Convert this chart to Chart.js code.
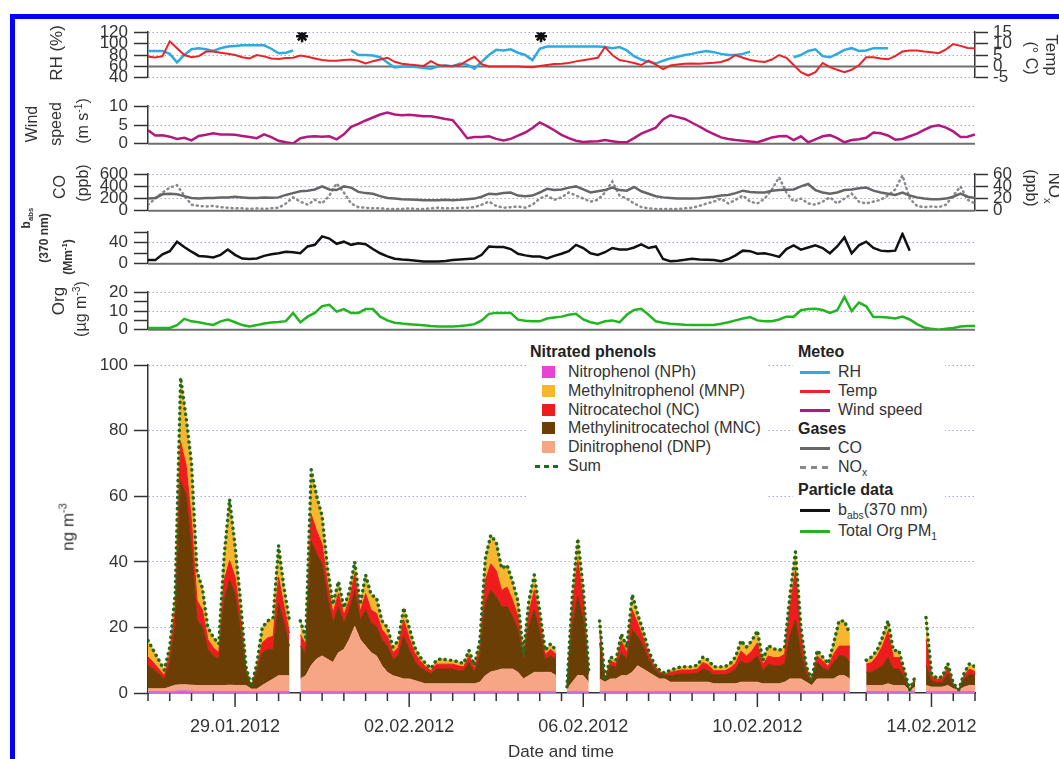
<!DOCTYPE html>
<html>
<head>
<meta charset="utf-8">
<script src="https://cdn.jsdelivr.net/npm/chart.js@4.4.0/dist/chart.umd.min.js"></script>
<style>
  body { margin: 0; background: #fff; }
  #page { position: relative; width: 1059px; height: 759px; overflow: hidden; background: #fff;
          font-family: "Liberation Sans", Arial, sans-serif; color: #333; }
  #frame { position: absolute; left: 10px; top: 14px; width: 1100px; height: 800px;
           border-left: 5px solid #0000ff; border-top: 5px solid #0000ff; }
  canvas { position: absolute; left: 0; }
  .t { position: absolute; white-space: nowrap; line-height: 1; }
  .vl { transform: translate(-50%, -50%) rotate(-90deg); }
  .vr { transform: translate(-50%, -50%) rotate(90deg); }
  .ab { font-size: 12px; font-weight: bold; }
  sup, sub { font-size: 65%; line-height: 0; }
  .box { position: absolute; background: #fff; }
  .hd { position: absolute; font-size: 16px; font-weight: bold; color: #222; line-height: 18px; }
  .it { position: absolute; font-size: 16px; color: #333; line-height: 18px; }
  .sw { position: absolute; width: 13px; height: 12px; }
  .ln { position: absolute; width: 30px; height: 3px; }
</style>
</head>
<body>
<div id="page">
  <div id="frame"></div>

  <canvas id="p1" width="1059" height="78" style="top:16px"></canvas>
  <canvas id="p2" width="1059" height="70" style="top:90px"></canvas>
  <canvas id="p3" width="1059" height="69" style="top:158px"></canvas>
  <canvas id="p4" width="1059" height="64" style="top:216px"></canvas>
  <canvas id="p5" width="1059" height="70" style="top:276px"></canvas>
  <canvas id="p6" width="1059" height="394" style="top:349px"></canvas>

  <!-- left axis titles -->
  <div class="t vl" style="left:56px;top:53px;font-size:17px">RH (%)</div>
  <div class="t vl" style="left:32px;top:124px;font-size:16px">Wind</div>
  <div class="t vl" style="left:56px;top:124px;font-size:16px">speed</div>
  <div class="t vl" style="left:83px;top:121px;font-size:16px">(m s<sup>-1</sup>)</div>
  <div class="t vl" style="left:60px;top:187px;font-size:16px">CO</div>
  <div class="t vl" style="left:83px;top:183px;font-size:16px">(ppb)</div>
  <div class="t vl ab" style="left:26px;top:218px">b<sub>abs</sub></div>
  <div class="t vl ab" style="left:44px;top:238px">(370 nm)</div>
  <div class="t vl ab" style="left:68px;top:257px">(Mm<sup>-1</sup>)</div>
  <div class="t vl" style="left:58px;top:301px;font-size:17px">Org</div>
  <div class="t vl" style="left:81px;top:309px;font-size:16px">(µg m<sup>-3</sup>)</div>
  <div class="t vl" style="left:68px;top:527px;font-size:17px">ng m<sup>-3</sup></div>

  <!-- right axis titles -->
  <div class="t vr" style="left:1031px;top:58px;font-size:16px">(° C)</div>
  <div class="t vr" style="left:1051px;top:55px;font-size:17px">Temp</div>
  <div class="t vr" style="left:1031px;top:188px;font-size:16px">(ppb)</div>
  <div class="t vr" style="left:1054px;top:188px;font-size:17px">NO<sub>x</sub></div>

  <div class="t" style="left:561px;top:751px;font-size:17px;transform:translate(-50%,-50%)">Date and time</div>

  <!-- legend -->
  <div class="box" style="left:527px;top:343px;width:240px;height:162px"></div>
  <div class="box" style="left:793px;top:343px;width:152px;height:200px"></div>

  <div class="hd" style="left:530px;top:343px">Nitrated phenols</div>
  <div class="sw" style="left:542px;top:366px;background:#e844d4"></div>
  <div class="it" style="left:568px;top:363px">Nitrophenol (NPh)</div>
  <div class="sw" style="left:542px;top:385px;background:#f8b62e"></div>
  <div class="it" style="left:568px;top:382px">Methylnitrophenol (MNP)</div>
  <div class="sw" style="left:542px;top:404px;background:#ee1c1c"></div>
  <div class="it" style="left:568px;top:401px">Nitrocatechol (NC)</div>
  <div class="sw" style="left:542px;top:422px;background:#6b3e05"></div>
  <div class="it" style="left:568px;top:419px">Methylinitrocatechol (MNC)</div>
  <div class="sw" style="left:542px;top:441px;background:#f7a685"></div>
  <div class="it" style="left:568px;top:438px">Dinitrophenol (DNP)</div>
  <div class="ln" style="left:535px;top:465px;width:23px;background:repeating-linear-gradient(90deg,#1e6b1e 0 5px,transparent 5px 9px)"></div>
  <div class="it" style="left:568px;top:457px">Sum</div>

  <div class="hd" style="left:798px;top:343px">Meteo</div>
  <div class="ln" style="left:800px;top:371px;background:#2ea9e1"></div>
  <div class="it" style="left:838px;top:363px">RH</div>
  <div class="ln" style="left:800px;top:390px;background:#ec2228"></div>
  <div class="it" style="left:838px;top:382px">Temp</div>
  <div class="ln" style="left:800px;top:409px;background:#b4187e"></div>
  <div class="it" style="left:838px;top:401px">Wind speed</div>
  <div class="hd" style="left:798px;top:420px">Gases</div>
  <div class="ln" style="left:800px;top:447px;background:#666"></div>
  <div class="it" style="left:838px;top:439px">CO</div>
  <div class="ln" style="left:800px;top:466px;background:repeating-linear-gradient(90deg,#888 0 6px,transparent 6px 11px)"></div>
  <div class="it" style="left:838px;top:458px">NO<sub>x</sub></div>
  <div class="hd" style="left:798px;top:481px">Particle data</div>
  <div class="ln" style="left:800px;top:509px;background:#111"></div>
  <div class="it" style="left:838px;top:501px">b<sub>abs</sub>(370 nm)</div>
  <div class="ln" style="left:800px;top:530px;background:#22b522"></div>
  <div class="it" style="left:838px;top:522px">Total Org PM<sub>1</sub></div>
</div>

<script>
// x axis: days since 27.01.2012 00:00
const xTickDays = [2, 6, 10, 14, 18];
const xTickLabels = ["29.01.2012", "02.02.2012", "06.02.2012", "10.02.2012", "14.02.2012"];
const starDays = [3.54, 9.03];
const starRH = [113, 113];

// meteo / gases / particles, 4-hourly
const rh = [87,87,87,82,67,80,90,92,90,87,92,95,96,97,97,97,97,91,83,84,88,
  null,null,null,null,null,null,null,
  88,80,80,79,76,67,58,60,60,59,57,56,60,62,60,65,63,56,68,80,89,88,90,84,80,71,
  91,95,95,95,95,95,95,95,95,94,92,94,88,78,72,68,65,70,74,77,80,82,85,87,85,82,80,80,82,86,
  null,null,null,null,null,
  76,80,87,90,78,76,82,89,92,87,88,92,92,92,
  null,null,null,null,null,null,null,null,null,null,null,null];
const temp = [4.4,3.9,4.5,11,8,5,4,4.5,6.5,6.5,6,5.5,5,4,3.5,5,4.4,3.5,3.3,3.7,
  3.8,4.8,4.2,3.5,2.8,2.5,2.5,2.8,3,2.5,1.3,2.3,3,3.8,2,1.2,0.8,0.5,0.2,2.3,
  0.6,0.2,0.3,0.6,2.5,4.2,1,0,0,0,0,0,-0.3,-0.4,0.2,0.6,1,1.2,1.5,2.2,
  2.7,3.2,3.8,8.5,5,2.8,2.2,1.5,0.6,2.5,0.8,-1.2,0.4,0.8,1.2,1.3,1.2,1.4,1.6,1.9,
  3,5,3.8,2.8,2.3,1.9,3,5,3.8,0.6,-2.5,-4,-2.5,1.5,-0.3,-1.5,-2.5,-1.5,0.5,4,
  4,3.5,3.1,4.5,6.5,7,7,6.5,6.2,5.8,7.5,9.8,9,8.1,8];
const wind = [3.6,2.2,2.3,1.9,1.3,1.6,0.9,2.1,2.4,2.8,2.5,2.5,2.4,2.1,1.8,1.5,2.5,1.8,0.8,0.4,
  0.1,1.5,1.9,2,1.9,2,1.2,2.5,4.5,5.3,6.2,7,7.8,8.3,7.8,7.6,7.7,7.5,7.3,7.3,
  7,6.6,6.3,4,1.5,1.8,1.8,2,1.3,0.9,1.3,2.2,3,4.2,5.7,4.7,3.6,2.4,1.5,0.8,
  0.5,0.6,0.7,1,0.7,0.4,0.4,1.5,2.7,3.5,4.3,6.5,7.6,7.1,6.6,5.6,4.6,3.5,2.6,1.7,
  1.3,1,0.8,0.6,0.4,1,1.7,2,2.1,1,2,0.4,1.2,2,2.3,1.5,0.4,1,1.2,1.6,
  3,2.8,2.2,1.1,1.3,2,2.7,3.7,4.6,4.9,4.3,3.3,1.8,1.9,2.5];
const co = [200,210,270,280,270,240,210,200,210,210,220,220,230,220,210,210,220,215,220,260,
  290,320,330,350,400,350,340,400,380,310,290,280,240,210,200,190,185,180,175,175,
  175,180,175,180,190,200,230,280,270,290,300,250,240,250,300,360,340,350,380,400,
  350,300,320,340,380,340,330,390,320,280,240,220,210,200,200,200,205,220,230,250,
  260,290,330,310,300,300,330,340,345,350,400,440,340,300,280,300,340,350,370,380,
  330,300,280,260,300,250,220,200,190,190,200,230,280,230,210];
const nox = [10,20,30,38,42,25,10,8,7,8,6,5,4,4,3,4,3,4,5,12,
  22,15,10,18,12,25,45,30,12,6,5,4,4,3,3,3,4,3,3,4,
  5,4,4,5,5,6,10,15,8,5,6,7,5,10,20,25,18,22,30,25,
  20,15,18,30,48,25,20,12,6,4,3,3,3,3,4,5,8,12,15,20,
  12,18,25,15,12,20,35,55,30,15,20,12,10,15,22,12,20,28,15,12,
  15,18,25,35,58,20,8,6,7,6,10,25,40,18,12];
const babs = [7,7,18,24,42,32,23,15,14,12,17,27,17,10,9,10,15,18,20,23,
  22,20,33,36,52,48,38,42,36,39,37,28,20,14,9.5,8,7,6,4.5,4.5,
  4.5,5.5,7,8,9,10,17,33,32,32,28,19,16,14,14,10,15,19,24,36,
  30,20,17,22,30,27,27,31,37,30,33,9,5,6,7.5,9.5,8,7.5,7,5,
  9,16,25,24,19,20,17,13,28,35,27,31,35,30,20,33,50,20,35,42,
  30,25,24,25,57,25,null,null,null,null,null,null,null,null,null];
const org = [1,1,1,1,2.5,5.8,4.5,4,3.2,2.6,4.5,5.5,4,2.5,1.8,2.5,3.3,3.9,4.2,4.6,
  9,4,7,9,12.6,13.3,9.7,11,9,9,11,11,7,5,3.8,3.3,3,2.7,2.4,2,
  1.7,1.7,1.7,2,2.4,3,5,8.5,9,9,9,5.4,4.8,4.5,4.5,6,6.5,7,8,8.5,
  5.5,4,3.2,4.5,5,4,8,10.5,11.2,8,4.5,3.7,3.2,3,2.7,2.5,2.5,2.5,2.6,3.2,
  4,5,6,6.8,5,4.6,4.6,5.5,7,7,10.4,11,11.2,10.5,9,10.4,17.5,10,14.5,12.5,
  6.8,6.8,6.5,6,7,5.5,3,1.2,0.5,0,0.5,1,1.8,2,2];

// nitrated phenols (ng m-3), 3-hourly
const nph = [0.3,0.3,0.3,0.3,0.3,0.4,0.5,0.5,0.4,0.3,0.3,0.3,0.3,0.3,
  0.3,0.4,0.3,0.3,0.3,0.2,0.2,0.3,0.3,0.3,0.3,0.3,0.3,
  null,
  0.3,0.3,0.4,0.4,0.3,0.3,0.3,0.3,0.3,0.3,0.3,0.3,0.3,0.3,0.3,0.3,0.3,0.3,0.3,0.3,0.3,0.3,0.3,
  0.3,0.3,0.3,0.3,0.3,0.3,0.3,0.3,0.3,0.3,0.3,0.3,0.4,0.3,
  0.3,0.3,0.3,0.3,0.3,0.3,0.3,0.3,0.3,0.3,0.3,
  null,
  0.2,0.3,0.4,0.3,0.2,
  null,
  0.3,0.3,0.3,0.3,0.3,0.3,0.3,0.3,0.3,0.3,0.3,0.3,0.3,0.3,0.3,0.3,0.3,0.3,0.3,
  0.3,0.3,0.3,0.3,0.3,0.3,0.3,0.3,0.3,0.3,0.3,0.3,0.3,0.3,0.3,0.3,
  0.3,0.3,0.3,0.3,0.3,0.3,0.3,0.3,0.3,0.3,0.3,0.3,
  null,null,
  0.3,0.3,0.3,0.3,0.3,0.3,0.3,0.3,0.2,0.3,
  null,
  0.3,0.3,0.3,0.3,0.3,0.3,0.3,0.3,0.3,0.3];
const dnp = [1,1,1,1,1.5,2,2,2,2,2,2,2,2,2,
  2,2,2,2,2,1,1,2,3,4,5,5,5,
  null,
  4,5,8,10,11,10,9,12,13,16,20,16,14,12,11,8,6,5,4.5,4,4,3.5,3,
  2.5,2.5,2.5,2.5,2.5,2.5,2.5,2.5,2.5,2.5,3,5,6,6.5,
  7,7,7,6,4,5,6,6,6,6,5,
  null,
  1,3,5,5,3,
  null,
  4,3,4,4,5,5,6,8,7,6,5,4,4,3,3,3,3,3,3,
  3,3,2.5,2.5,2.5,2.5,2.5,3,3,3,3,2.5,2.5,2.5,2.5,3,
  4,4,4,3,2,4,4,4,4,5,5,4,
  null,null,
  2,2,2,2,2.5,2,2,2,0.5,1.5,
  null,
  2,1.5,1.5,1.5,2,1,0.5,1.5,2,2];
const mnc = [7,6,4.5,3,7.5,18,62,58,42,20,18,11,9,8,
  26,32,28,17,4,0.5,5,10,10,9,22,16,9,
  null,
  10,7,38,32,28,19,12,14,8,9,11,6,11,9,9,8,8,5,6.5,13,9,6,4.5,
  4,3,4.5,4.5,4.5,4.5,4,4,6.5,3.5,8,22,25,22.5,
  19,19,16,13,5.5,15,19,12,4,5,5,
  null,
  0.4,17,24,17,2.5,
  null,
  11,0.4,4,3.5,7,5,13,9,7,4,2.2,1.6,1,2,2.3,2.5,2.5,2.5,2.8,
  4,3.5,2.8,2.8,2.8,3.3,4.5,6.5,5.5,6.5,8,4,6,5.5,5.5,5.5,
  13,18,8,2.5,1,5,3.5,2.5,5,6,6,5,
  null,null,
  4,4,5,6,8,5,5,2.5,0.1,1.8,
  null,
  6,2,1.3,1.5,3.5,1,0.1,2.5,3.5,3];
const nc = [2.7,2,1.5,1,2.5,5,12,9,8,6,5,3,2.5,2,
  6,6,5,4,1,0.1,1.5,3,3.5,4,8,5,4,
  null,
  3.5,2.5,8,7,6,4,3,4,2.5,3,5,2.5,5,4,4,3,3,2,2.5,5,3.5,2.5,2,
  1.2,1,1.5,1.5,1.5,1.5,1.5,1.2,2,1.2,2.5,7,8,8,
  5,6,5,4,1.2,4,6,4,1.5,2,1.5,
  null,
  0.2,6,11,6,0.8,
  null,
  4,0.2,1.5,1.2,3.5,2,6,4,2.5,1.5,0.8,0.6,0.4,1,1,1.2,1.2,1.2,1.2,
  2,1.7,1.2,1.2,1.2,1.5,1.8,3,2.5,3,4,1.8,2.5,2.5,2.5,3,
  9,15,5,1.5,0.5,2,2,1.3,2.5,3,3,5,
  null,null,
  2.5,3,4,6,8,3.5,3.5,1.5,0.05,1,
  null,
  8,1.5,1,1.2,2,0.5,0.05,1,1.5,1.2];
const mnp = [5,3.7,2.7,1.7,2.2,4.7,19.7,14.7,17.7,8.7,6.7,3.7,3.2,2.7,
  7.7,18.7,9.7,4.7,0.7,0.1,1.2,4.7,5.2,5.7,9.7,5.7,3.7,
  null,
  4.2,2.2,13.7,10.7,8.7,4.7,2.7,3.7,2.2,2.7,3.7,2.2,5.7,4.7,4.7,2.7,2.7,1.7,2.2,3.7,3.2,1.7,1.2,
  1,0.7,1.2,1.7,1.2,1.2,1.2,1,1.7,1,2.2,6.7,8.7,8.7,
  6.7,6.7,5.7,4.7,1,3.7,4.7,2.7,1.2,1.7,1.2,
  null,
  0.1,3.7,6.7,3.7,0.4,
  null,
  2.7,0.1,1.2,1,2.2,1.7,4.7,2.7,2.2,1.2,0.7,0.5,0.3,0.7,0.9,1,1,1,1.2,
  1.7,1.5,1.2,1.2,1.2,1.4,1.9,3.2,2.7,3.2,3.7,1.4,3.2,2.7,2.2,2.2,
  3.7,5.7,2.7,0.7,0.2,1.7,1.2,0.9,3.2,7.7,7.7,3.7,
  null,null,
  1.2,1.7,1.7,2.7,3.2,2.2,2.2,0.7,0.05,0.4,
  null,
  6.7,0.7,0.4,0.5,1.2,0.2,0.05,0.7,1.7,1.5];

// time grids (days)
const t4h = rh.map((_, i) => i / 6);
const t3h = mnc.map((_, i) => i / 8);
const total = mnc.map((v, i) => v === null ? null :
  +(nph[i] + dnp[i] + mnc[i] + nc[i] + mnp[i]).toFixed(2));

const C = {
  rh: "#2ea9e1", temp: "#ec2228", wind: "#b4187e", co: "#666666", nox: "#8a8a8a",
  babs: "#111111", org: "#22b522", nph: "#e844d4", mnp: "#f8b62e", nc: "#ee1c1c",
  mnc: "#6b3e05", dnp: "#f7a685", sum: "#1e6b1e"
};
const GRID = "#a4a4e8";
const AXIS = "#333";
const LEFT_W = 148, RIGHT_W = 84;

Chart.defaults.font.family = '"Liberation Sans", Arial, sans-serif';
Chart.defaults.font.size = 17;
Chart.defaults.color = "#333";

// solid gray zero line of a panel
const zeroLine = {
  id: "zeroLine",
  beforeDatasetsDraw(chart, args, o) {
    if (!o || !o.axis) return;
    const s = chart.scales[o.axis], a = chart.chartArea, y = s.getPixelForValue(0);
    const ctx = chart.ctx;
    ctx.save();
    ctx.strokeStyle = "#707070";
    ctx.lineWidth = 2;
    ctx.beginPath();
    ctx.moveTo(a.left, y);
    ctx.lineTo(a.right, y);
    ctx.stroke();
    ctx.restore();
  }
};

// long ticks on labelled days, short ones every 12 h
const dayTicks = {
  id: "dayTicks",
  afterDraw(chart, args, o) {
    if (!o || !o.on) return;
    const xs = chart.scales.x, y0 = chart.chartArea.bottom, ctx = chart.ctx;
    ctx.save();
    ctx.strokeStyle = AXIS;
    ctx.lineWidth = 1.5;
    xs.ticks.forEach(t => {
      const x = xs.getPixelForValue(t.value);
      const len = xTickDays.includes(t.value) ? 14 : 8;
      ctx.beginPath();
      ctx.moveTo(x, y0);
      ctx.lineTo(x, y0 + len);
      ctx.stroke();
    });
    ctx.restore();
  }
};

function leftAxis(min, max, step, showLabel, showGrid) {
  return {
    position: "left", min: min, max: max,
    afterFit: s => { s.width = LEFT_W; },
    border: { color: AXIS, width: 1.5, dash: [1.5, 2.5] },
    grid: {
      color: c => (c.tick && showGrid(c.tick.value)) ? GRID : "rgba(0,0,0,0)",
      lineWidth: 1, tickColor: AXIS, tickLength: 14, tickWidth: 1.5
    },
    ticks: {
      stepSize: step, autoSkip: false, padding: 6,
      callback: v => showLabel(v) ? v : ""
    }
  };
}

function rightAxis(min, max, step) {
  return {
    position: "right", min: min, max: max,
    afterFit: s => { s.width = RIGHT_W; },
    border: { color: AXIS, width: 1.5 },
    grid: { drawOnChartArea: false, tickColor: AXIS, tickLength: 13, tickWidth: 1.5 },
    ticks: { stepSize: step, autoSkip: false, padding: 5 }
  };
}

function panelOptions(scales, hasRight, zeroAxis) {
  return {
    responsive: false,
    animation: false,
    layout: { padding: { top: 12, bottom: 12, left: 0, right: hasRight ? 0 : RIGHT_W } },
    plugins: { legend: { display: false }, tooltip: { enabled: false }, zeroLine: { axis: zeroAxis } },
    elements: { point: { radius: 0 }, line: { tension: 0 } },
    scales: Object.assign({ x: { type: "linear", min: 0, max: 19, display: false } }, scales)
  };
}

const all = () => true;
const notZero = v => v !== 0;

function line(data, color, width, axis) {
  return { data: data, borderColor: color, borderWidth: width, yAxisID: axis || "y",
           pointRadius: 0, spanGaps: false, fill: false };
}

// RH and temperature
new Chart(document.getElementById("p1"), {
  type: "line",
  data: {
    labels: t4h,
    datasets: [
      { type: "scatter", data: starDays.map((d, i) => ({ x: d, y: starRH[i] })),
        pointStyle: "star", pointRadius: 6, borderColor: "#111", borderWidth: 2.5, showLine: false },
      line(temp, C.temp, 2, "y2"),
      line(rh, C.rh, 2.5)
    ]
  },
  options: panelOptions({ y: leftAxis(40, 120, 20, all, all), y2: rightAxis(-5, 15, 5) }, true, "y2"),
  plugins: [zeroLine]
});

// wind speed
new Chart(document.getElementById("p2"), {
  type: "line",
  data: { labels: t4h, datasets: [line(wind, C.wind, 2.5)] },
  options: panelOptions({ y: leftAxis(0, 10, 5, all, notZero) }, false, "y"),
  plugins: [zeroLine]
});

// CO and NOx
const noxLine = line(nox, C.nox, 2.5, "y2");
noxLine.borderDash = [1, 4];
noxLine.borderCapStyle = "round";
new Chart(document.getElementById("p3"), {
  type: "line",
  data: { labels: t4h, datasets: [line(co, C.co, 2.5), noxLine] },
  options: panelOptions({ y: leftAxis(0, 600, 200, all, notZero), y2: rightAxis(0, 60, 20) }, true, "y"),
  plugins: [zeroLine]
});

// b_abs
new Chart(document.getElementById("p4"), {
  type: "line",
  data: { labels: t4h, datasets: [line(babs, C.babs, 2.5)] },
  options: panelOptions({ y: leftAxis(0, 60, 20, v => v === 0 || v === 40, v => v === 40) }, false, "y"),
  plugins: [zeroLine]
});

// organics
new Chart(document.getElementById("p5"), {
  type: "line",
  data: { labels: t4h, datasets: [line(org, C.org, 2.5)] },
  options: panelOptions({ y: leftAxis(0, 20, 5, v => v % 10 === 0, v => v === 10 || v === 20) }, false, "y"),
  plugins: [zeroLine]
});

// nitrated phenols, stacked
function area(data, color) {
  return { data: data, backgroundColor: color, borderColor: color, borderWidth: 1,
           fill: "-1", stack: "np", pointRadius: 0, spanGaps: false };
}
const yMain = leftAxis(0, 100, 20, all, notZero);
yMain.stacked = true;
new Chart(document.getElementById("p6"), {
  type: "line",
  data: {
    labels: t3h,
    datasets: [
      { data: total, stack: "sum", borderColor: C.sum, borderWidth: 3.5, borderDash: [0.1, 5.5],
        borderCapStyle: "round", borderJoinStyle: "round", fill: false, pointRadius: 0, spanGaps: false },
      { data: nph, stack: "np", backgroundColor: C.nph, borderColor: "#cf6fd6", borderWidth: 2,
        fill: "origin", pointRadius: 0, spanGaps: false },
      area(dnp, C.dnp),
      area(mnc, C.mnc),
      area(nc, C.nc),
      area(mnp, C.mnp)
    ]
  },
  options: {
    responsive: false,
    animation: false,
    layout: { padding: { top: 12, bottom: 0, left: 0, right: RIGHT_W } },
    plugins: { legend: { display: false }, tooltip: { enabled: false }, dayTicks: { on: true } },
    elements: { line: { tension: 0 } },
    scales: {
      x: {
        type: "linear", min: 0, max: 19,
        afterFit: s => { s.height = 50; },
        border: { color: AXIS, width: 1.5 },
        grid: { display: false, drawTicks: false },
        ticks: {
          stepSize: 0.5, autoSkip: false, maxRotation: 0, padding: 23, font: { size: 18 },
          callback: v => { const k = xTickDays.indexOf(v); return k >= 0 ? xTickLabels[k] : ""; }
        }
      },
      y: yMain
    }
  },
  plugins: [dayTicks]
});
</script>
</body>
</html>
